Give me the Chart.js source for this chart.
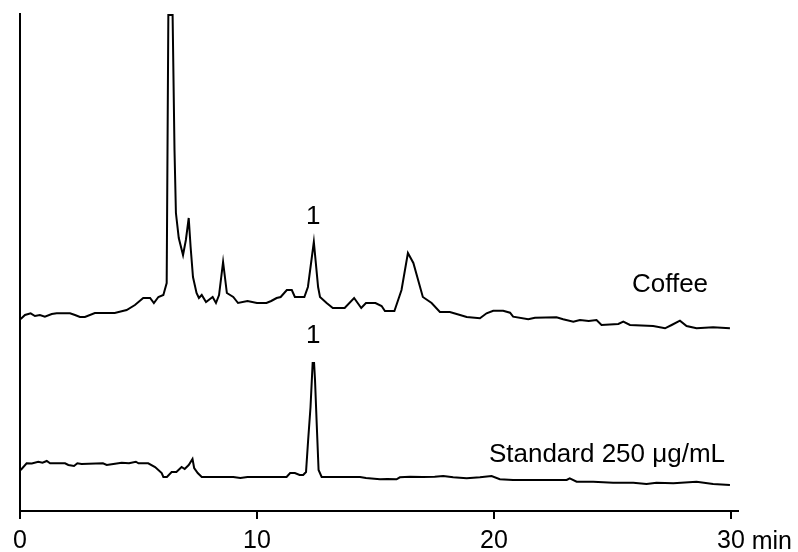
<!DOCTYPE html>
<html>
<head>
<meta charset="utf-8">
<script src="https://cdn.jsdelivr.net/npm/chart.js@4/dist/chart.umd.min.js"></script>
<style>
  html, body { margin: 0; padding: 0; background: #fff; }
  #wrap { width: 798px; height: 552px; }
</style>
</head>
<body>
<div id="wrap"><canvas id="chart" width="798" height="552"></canvas></div>
<script>
// retention time (min) and detector response (a.u.)
var coffeeTime = [0.03, 0.21, 0.45, 0.63, 0.84, 1.05, 1.34, 1.55, 2.11, 2.32, 2.53, 2.74, 3.16, 3.52, 4.0, 4.5, 4.85, 5.2, 5.49, 5.65, 5.84, 6.05, 6.19, 6.26, 6.44, 6.52, 6.58, 6.7, 6.88, 7.0, 7.12, 7.2, 7.3, 7.45, 7.55, 7.67, 7.85, 8.13, 8.27, 8.4, 8.57, 8.73, 9.0, 9.2, 9.6, 10.0, 10.4, 10.6, 10.83, 11.0, 11.26, 11.47, 11.6, 12.0, 12.15, 12.4, 12.58, 12.66, 12.94, 13.2, 13.7, 14.1, 14.4, 14.6, 15.0, 15.26, 15.4, 15.8, 16.1, 16.37, 16.6, 17.0, 17.37, 17.72, 18.14, 18.57, 18.85, 19.41, 19.69, 19.97, 20.39, 20.68, 20.81, 21.45, 21.73, 22.64, 22.92, 23.35, 23.63, 24.0, 24.33, 24.54, 25.25, 25.46, 25.74, 26.72, 27.22, 27.5, 27.85, 28.13, 28.55, 29.25, 29.96];
var coffeeSignal = [192, 196, 197.7, 195, 196, 194.3, 197, 197.7, 197.7, 196, 194, 194, 198, 198, 198, 201, 206, 213, 213, 208, 214, 216, 228, 496, 496, 361, 298, 273, 256, 271, 293, 264, 234, 218, 213, 216, 209, 214, 208, 216, 249, 218, 214, 208, 210, 208, 208, 210, 213, 214, 221, 221, 214, 214, 224, 269, 224, 214, 208, 203, 203, 213, 203, 208, 208, 205, 200, 200, 221, 258, 248, 214, 208, 199, 199, 196, 194, 192.7, 197.7, 200.3, 200.3, 198.3, 194.3, 191.7, 193.3, 193.7, 191.7, 189.3, 191, 190, 191, 186, 187, 189.3, 186, 185, 182.7, 186, 190.3, 185, 182.7, 183.7, 182.7];

var stdTime = [0.03, 0.28, 0.5, 0.77, 0.95, 1.13, 1.27, 1.9, 2.04, 2.28, 2.42, 2.6, 3.5, 3.66, 3.94, 4.29, 4.6, 4.89, 5.0, 5.41, 5.7, 5.98, 6.05, 6.2, 6.4, 6.6, 6.82, 6.95, 7.12, 7.28, 7.35, 7.5, 7.67, 9.0, 9.3, 9.6, 11.25, 11.4, 11.6, 11.8, 11.95, 12.07, 12.16, 12.26, 12.35, 12.41, 12.45, 12.52, 12.6, 12.73, 13.5, 14.35, 14.6, 15.19, 15.5, 15.89, 16.03, 16.46, 17.0, 17.5, 17.86, 18.28, 18.85, 19.41, 19.9, 20.25, 20.81, 22.0, 23.07, 23.2, 23.49, 24.19, 25.03, 25.88, 26.44, 26.86, 27.57, 28.55, 29.25, 29.96];
var stdSignal = [41, 47.7, 47.5, 49.3, 48.3, 50, 47.7, 47.7, 46, 45, 47.7, 47, 47.7, 46, 47, 48.3, 47.7, 49.3, 47.7, 47.7, 44, 38, 34, 34, 39, 39, 44, 42, 46, 52, 43, 38, 34, 34, 33, 34, 34, 38, 38, 36, 36, 39, 71, 104, 148, 148, 131, 88, 41, 34, 34, 34, 33, 31.7, 32, 31.7, 33.7, 34.3, 34, 34.3, 35, 33.7, 32.7, 33.7, 35, 31.7, 31, 31, 31, 32.7, 29.3, 29.3, 28.3, 28.3, 27, 28.3, 27.7, 29.3, 27, 26];

var xTicks = [0, 10, 20, 30];

// text labels: [text, time, response]
var notes = [
  ["1", 12.37, 294],
  ["1", 12.37, 175],
  ["Coffee", 27.43, 226],
  ["Standard 250 \u03bcg/mL", 24.77, 56]
];

var FAMILY = "'Liberation Sans', Arial, sans-serif";
var TICK_SIZE = 25;
var TICK_LEN = 8;
var TICK_PAD = 7;

function toPoints(xs, ys) {
  return xs.map(function (x, i) { return { x: x, y: ys[i] }; });
}

var labelPlugin = {
  id: "labels",
  afterDraw: function (chart) {
    var ctx = chart.ctx;
    var xs = chart.scales.x;
    var ys = chart.scales.y;
    ctx.save();
    ctx.font = "26px " + FAMILY;
    ctx.fillStyle = "#000";
    ctx.textAlign = "center";
    ctx.textBaseline = "middle";
    notes.forEach(function (n) {
      ctx.fillText(n[0], xs.getPixelForValue(n[1]), ys.getPixelForValue(n[2]));
    });
    // unit after the last tick label
    ctx.font = TICK_SIZE + "px " + FAMILY;
    var last = xTicks[xTicks.length - 1];
    var w = ctx.measureText(String(last)).width;
    ctx.textAlign = "left";
    ctx.textBaseline = "alphabetic";
    var base = xs.top + TICK_LEN + TICK_PAD + 0.905 * TICK_SIZE;
    ctx.fillText(" min", xs.getPixelForValue(last) + w / 2, base);
    ctx.restore();
  }
};

new Chart(document.getElementById("chart"), {
  type: "line",
  data: {
    datasets: [
      { label: "Coffee", data: toPoints(coffeeTime, coffeeSignal) },
      { label: "Standard", data: toPoints(stdTime, stdSignal) }
    ]
  },
  options: {
    responsive: false,
    animation: false,
    layout: { padding: { top: 14, right: 60, left: 0, bottom: 0 } },
    elements: {
      line: { borderColor: "#000", borderWidth: 2, tension: 0 },
      point: { radius: 0 }
    },
    plugins: { legend: { display: false }, tooltip: { enabled: false } },
    scales: {
      x: {
        type: "linear",
        min: 0,
        max: 30.3,
        afterBuildTicks: function (scale) {
          scale.ticks = xTicks.map(function (v) { return { value: v }; });
        },
        afterFit: function (scale) { scale.height = 41; },
        grid: { display: true, drawOnChartArea: false, drawTicks: true, tickLength: TICK_LEN, color: "#000", lineWidth: 2 },
        border: { display: true, color: "#000", width: 2 },
        ticks: {
          color: "#000",
          font: { family: FAMILY, size: TICK_SIZE },
          padding: TICK_PAD,
          maxRotation: 0
        }
      },
      y: {
        min: 0,
        max: 497,
        afterFit: function (scale) { scale.width = 20; },
        grid: { display: false },
        border: { display: true, color: "#000", width: 2 },
        ticks: { display: false }
      }
    }
  },
  plugins: [labelPlugin]
});
</script>
</body>
</html>
